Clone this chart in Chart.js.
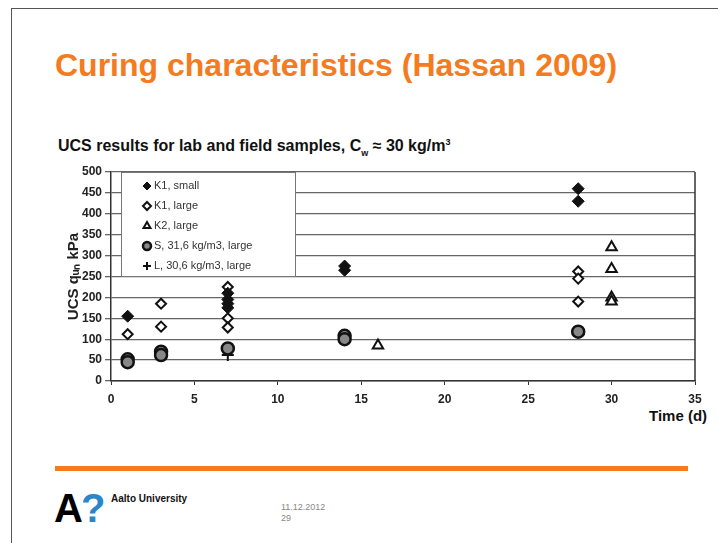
<!DOCTYPE html>
<html>
<head>
<meta charset="utf-8">
<script src="https://cdn.jsdelivr.net/npm/chart.js@4/dist/chart.umd.min.js"></script>
<style>
  body { margin: 0; background: #fff; width: 718px; height: 543px; overflow: hidden; position: relative; font-family: "Liberation Sans", Arial, sans-serif; }
  .slide { position: absolute; left: 11px; top: 8px; width: 760px; height: 600px; border-left: 1.5px solid #555; border-top: 1.5px solid #555; }
  .title { position: absolute; left: 55px; top: 47px; font-size: 32px; font-weight: bold; color: #f47b20; white-space: nowrap; }
  .subtitle { position: absolute; left: 58px; top: 137px; font-size: 16px; font-weight: bold; color: #111; white-space: nowrap; letter-spacing: 0px; }
  .xtitle { position: absolute; left: 649px; top: 407px; font-size: 15px; font-weight: bold; color: #111; }
  .bar { position: absolute; left: 55px; top: 466px; width: 633px; height: 5px; background: #f47b20; }
  .logo { position: absolute; left: 54px; top: 486px; font-size: 40px; font-weight: bold; color: #000; letter-spacing: -2px; }
  .logo span { color: #2a86c8; }
  .uni { position: absolute; left: 111px; top: 493px; font-size: 10px; font-weight: bold; color: #111; }
  .date { position: absolute; left: 281px; top: 502px; font-size: 9px; color: #888; line-height: 11px; }
  canvas { position: absolute; left: 0; top: 0; }
</style>
</head>
<body>
<div class="slide"></div>
<div class="title">Curing characteristics (Hassan 2009)</div>
<div class="subtitle">UCS results for lab and field samples, C<sub style="font-size:9px">w</sub> ≈ 30 kg/m<sup style="font-size:9px">3</sup></div>
<div class="xtitle">Time (d)</div>
<div class="bar"></div>
<div class="logo">A<span>?</span></div>
<div class="uni">Aalto University</div>
<div class="date">11.12.2012<br>29</div>
<canvas id="ucsChart" width="718" height="543"></canvas>
<script>
// values (time in days, UCS in kPa)
const k1SmallTime = [1, 7, 7, 7, 7, 14, 14, 28, 28]
const k1SmallUcs = [155, 210, 195, 185, 175, 275, 265, 460, 430]

const k1LargeTime = [1, 3, 3, 7, 7, 7, 28, 28, 28]
const k1LargeUcs = [112, 185, 130, 225, 150, 128, 262, 245, 190]

const k2LargeTime = [16, 30, 30, 30, 30]
const k2LargeUcs = [85, 320, 268, 200, 190]

const sTime = [1, 1, 3, 3, 7, 14, 14, 28]
const sUcs = [52, 45, 70, 62, 78, 108, 100, 118]

const lTime = [7]
const lUcs = [62]

const xTicks = [0, 5, 10, 15, 20, 25, 30, 35]
const yTicks = [0, 50, 100, 150, 200, 250, 300, 350, 400, 450, 500]

function pts(xs, ys) {
  return xs.map((x, i) => ({ x: x, y: ys[i] }))
}

// white legend box in the upper left of the plot
const legendBox = {
  id: 'legendBox',
  beforeDatasetsDraw(chart) {
    const { ctx, chartArea } = chart
    const x0 = chartArea.left + 10
    const y0 = chartArea.top
    ctx.save()
    ctx.fillStyle = '#fff'
    ctx.fillRect(x0, y0, 174, 104)
    ctx.strokeStyle = '#777'
    ctx.lineWidth = 1
    ctx.strokeRect(x0 + 0.5, y0 + 0.5, 174, 104)
    chart.data.datasets.forEach((ds, i) => {
      const cy = y0 + 14 + i * 20
      ctx.fillStyle = ds.backgroundColor
      ctx.strokeStyle = ds.borderColor
      ctx.lineWidth = ds.borderWidth
      Chart.helpers.drawPoint(ctx, { pointStyle: ds.pointStyle, radius: 4, borderWidth: ds.borderWidth }, x0 + 26, cy)
      ctx.fillStyle = '#333'
      ctx.font = '11px "Liberation Sans", Arial'
      ctx.textBaseline = 'middle'
      ctx.fillText(ds.label, x0 + 33, cy)
    })
    ctx.restore()
  },
  afterDraw(chart) {
    const { ctx, chartArea } = chart
    ctx.save()
    ctx.strokeStyle = '#333'
    ctx.lineWidth = 1.5
    ctx.beginPath()
    ctx.moveTo(chartArea.right, chartArea.top)
    ctx.lineTo(chartArea.right, chartArea.bottom)
    ctx.stroke()
    ctx.restore()
  }
}

Chart.defaults.font.family = '"Liberation Sans", Arial, sans-serif'

new Chart(document.getElementById('ucsChart'), {
  type: 'scatter',
  data: {
    datasets: [
      { label: 'K1, small', data: pts(k1SmallTime, k1SmallUcs), pointStyle: 'rectRot', pointRadius: 6, backgroundColor: '#111', borderColor: '#111', borderWidth: 1 },
      { label: 'K1, large', data: pts(k1LargeTime, k1LargeUcs), pointStyle: 'rectRot', pointRadius: 5, backgroundColor: '#fff', borderColor: '#111', borderWidth: 2 },
      { label: 'K2, large', data: pts(k2LargeTime, k2LargeUcs), pointStyle: 'triangle', pointRadius: 6, backgroundColor: '#fff', borderColor: '#111', borderWidth: 2 },
      { label: 'S, 31,6 kg/m3, large', data: pts(sTime, sUcs), pointStyle: 'circle', pointRadius: 6, backgroundColor: '#888', borderColor: '#111', borderWidth: 2.5 },
      { label: 'L, 30,6 kg/m3, large', data: pts(lTime, lUcs), pointStyle: 'cross', pointRadius: 6, backgroundColor: '#111', borderColor: '#111', borderWidth: 2 }
    ]
  },
  options: {
    responsive: false,
    animation: false,
    layout: { padding: { left: 62, right: 23, top: 172, bottom: 0 } },
    plugins: { legend: { display: false }, tooltip: { enabled: false } },
    scales: {
      x: {
        type: 'linear',
        min: 0,
        max: 35,
        afterBuildTicks: (s) => { s.ticks = xTicks.map(v => ({ value: v })) },
        ticks: { color: '#222', font: { size: 12, weight: 'bold' }, padding: 7, maxRotation: 0 },
        grid: { drawOnChartArea: false, tickLength: 4, color: '#333' },
        border: { color: '#333', width: 1.5 },
        afterFit: (s) => { s.height = 162 }
      },
      y: {
        min: 0,
        max: 500,
        afterBuildTicks: (s) => { s.ticks = yTicks.map(v => ({ value: v })) },
        ticks: { color: '#222', font: { size: 12, weight: 'bold' }, padding: 3 },
        grid: { color: '#666', lineWidth: 1.3, tickLength: 6 },
        border: { color: '#333', width: 1.5 },
        title: { display: true, text: 'UCS qᵤₙ kPa', color: '#222', font: { size: 15, weight: 'bold' }, padding: { top: 3, bottom: 0 } },
        afterFit: (s) => { s.width = 49 }
      }
    }
  },
  plugins: [legendBox]
})
</script>
</body>
</html>
